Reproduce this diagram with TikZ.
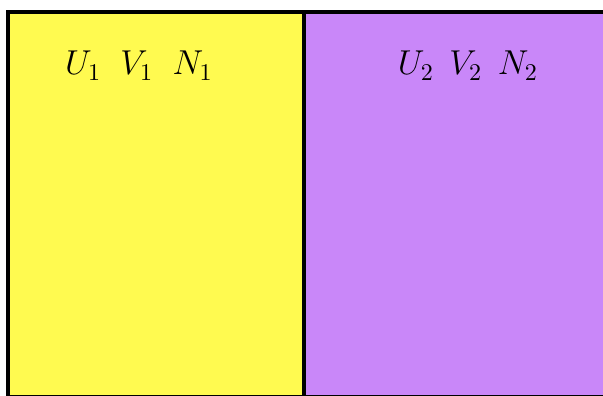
\documentclass[tikz,border=0pt]{standalone}
\usepackage{tikz}
\definecolor{sysone}{RGB}{255,250,80}
\definecolor{systwo}{RGB}{201,135,249}

\begin{document}
\begin{tikzpicture}[x=1pt,y=1pt,line width=4pt,
  lbl/.style={anchor=base,font=\Large,scale=2.4}]
\useasboundingbox (0,0) rectangle (603,396);
\clip (0,0) rectangle (603,396);
\filldraw[fill=sysone] (8,-1) rectangle (303.5,384);
\filldraw[fill=systwo] (303.5,-1) rectangle (607,384);
\node[lbl] (sys1) at (139,321) {$U_1\;\;V_1\;\;N_1$};
\node[lbl] (sys2) at (468,321) {$U_2\;\,V_2\;\,N_2$};
\end{tikzpicture}
\end{document}
